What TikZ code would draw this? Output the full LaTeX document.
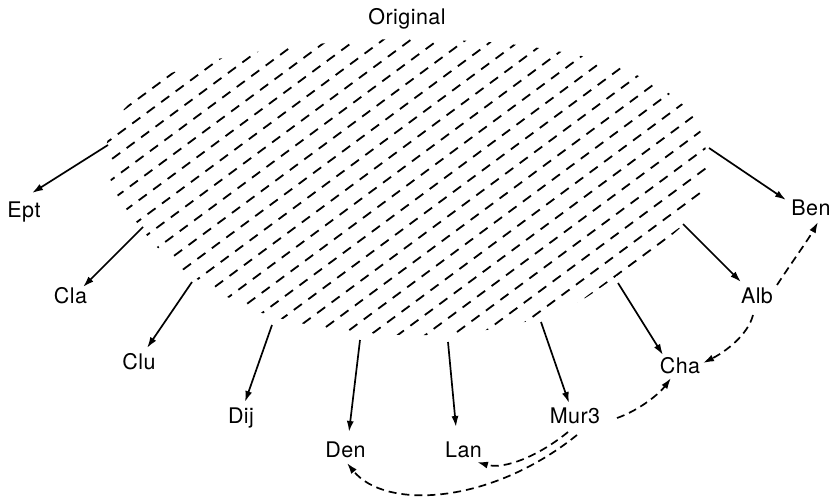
\documentclass[tikz,border=0pt]{standalone}
\usepackage{fontspec}
\setmainfont{TeX Gyre Heros}[LetterSpace=2]
\usetikzlibrary{arrows.meta,calc}
\begin{document}
\begin{tikzpicture}[x=1pt,y=-1pt,
  lbl/.style={font=\fontsize{21.5}{25}\selectfont, anchor=base, inner sep=0pt},
  solidarrow/.style={line width=1.7pt, -{Latex[length=11pt,width=7pt]}},
  dasharrow/.style={line width=1.7pt, dash pattern=on 8pt off 5pt, -{Latex[length=11pt,width=7pt]}},
  hatch/.style={line width=1.8pt, dash pattern=on 10pt off 8pt}]
\useasboundingbox (0,0) rectangle (832,500);

% hatched region
\begin{scope}
\clip plot[smooth cycle] coordinates {(128,105) (165,76) (210,61) (250,53) (300,46) (350,41) (400,39) (450,40) (500,43) (545,49) (590,58) (625,70) (660,87) (688,110) (703,138) (707,165) (702,192) (686,222) (652,251) (617,276) (575,304) (528,321) (480,331) (430,335) (380,334) (335,329) (295,322) (262,313) (237,302) (208,286) (178,266) (155,245) (138,224) (120,200) (109,175) (106,150) (112,127)};
\foreach \k in {0,...,26} {
  \pgfmathsetmacro\cc{201+20.4*\k}
  \pgfmathtruncatemacro\ph{mod(7*\k,18)}
  \draw[hatch, dash phase=\ph pt] (80,\cc-0.74*80) -- (730,\cc-0.74*730);
}
\end{scope}

% labels
\node[lbl] (Orig) at (407,25) {Original};
\node[lbl] (Ept) at (24,217) {Ept};
\node[lbl] (Cla) at (70.5,303) {Cla};
\node[lbl] (Clu) at (139,369) {Clu};
\node[lbl] (Dij) at (241,423) {Dij};
\node[lbl] (Den) at (345.5,457) {Den};
\node[lbl] (Lan) at (463.5,457) {Lan};
\node[lbl] (Mur) at (575,423) {Mur3};
\node[lbl] (Cha) at (680,373) {Cha};
\node[lbl] (Alb) at (757,303) {Alb};
\node[lbl] (Ben) at (811,215) {Ben};

% start points on the hatched region
\coordinate (sEpt) at (108,145);
\coordinate (sCla) at (143,227);
\coordinate (sClu) at (192,282);
\coordinate (sDij) at (272,325);
\coordinate (sDen) at (360,340);
\coordinate (sLan) at (448,342);
\coordinate (sMur) at (541,322);
\coordinate (sCha) at (618,283);
\coordinate (sAlb) at (683,224);
\coordinate (sBen) at (709,148);

% solid arrows
\draw[solidarrow] (sEpt) -- ([shift={(8,-24)}]Ept.base);
\draw[solidarrow] (sCla) -- ([shift={(12.5,-16)}]Cla.base);
\draw[solidarrow] (sClu) -- ([shift={(8,-21)}]Clu.base);
\draw[solidarrow] (sDij) -- ([shift={(4,-21)}]Dij.base);
\draw[solidarrow] (sDen) -- ([shift={(3.5,-25)}]Den.base);
\draw[solidarrow] (sLan) -- ([shift={(-7.5,-30)}]Lan.base);
\draw[solidarrow] (sMur) -- ([shift={(-6,-20)}]Mur.base);
\draw[solidarrow] (sCha) -- ([shift={(-17,-18)}]Cha.base);
\draw[solidarrow] (sAlb) -- ([shift={(-16,-21)}]Alb.base);
\draw[solidarrow] (sBen) -- ([shift={(-25,-15)}]Ben.base);

% dashed arrows
\draw[dasharrow] ([shift={(20,-18)}]Alb.base) .. controls +(15,-23) and +(-10,18) .. ([shift={(7,7)}]Ben.base);
\draw[dasharrow] ([shift={(-4,12)}]Alb.base) .. controls +(-5,20) and +(22,-11) .. ([shift={(23,-10)}]Cha.base);
\draw[dasharrow] ([shift={(42,-5)}]Mur.base) .. controls +(23,-8) and +(-11,15) .. ([shift={(-9,5)}]Cha.base);
\draw[dasharrow] ([shift={(-7,9)}]Mur.base) .. controls +(-28,23) and +(28,8) .. ([shift={(13.5,5)}]Lan.base);
\draw[dasharrow] ([shift={(2,12)}]Mur.base) .. controls +(-87,70) and +(38,47) .. ([shift={(1.5,6)}]Den.base);
\end{tikzpicture}
\end{document}
